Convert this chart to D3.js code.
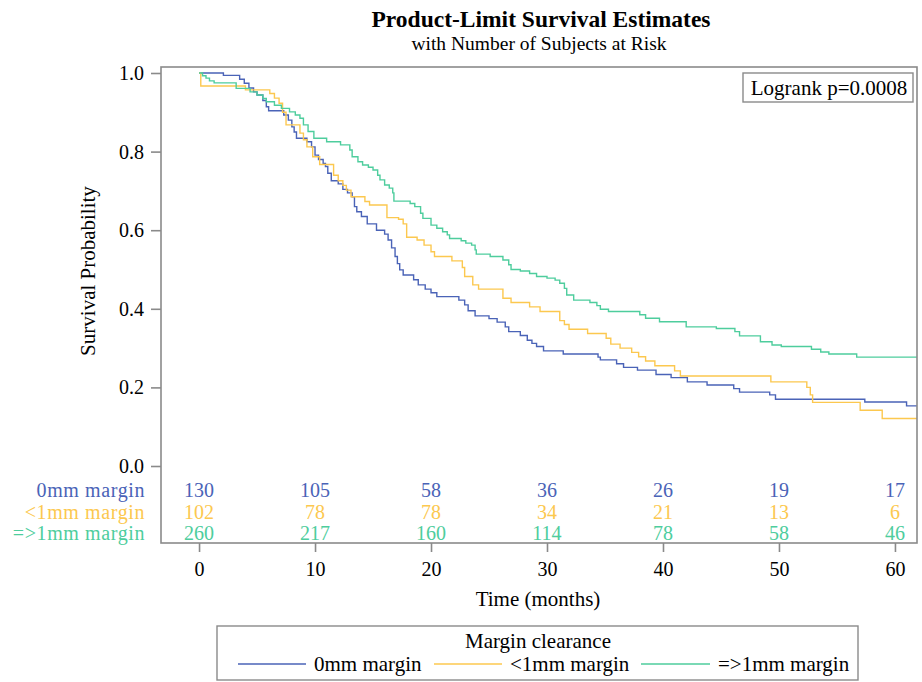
<!DOCTYPE html>
<html>
<head>
<meta charset="utf-8">
<script src="https://cdn.jsdelivr.net/npm/d3@7"></script>
<style>
  body { margin: 0; background: #fff; }
  svg { font-family: "Liberation Serif", "Times New Roman", serif; }
</style>
</head>
<body>
<svg id="chart" width="922" height="682"></svg>
<script>
// ---- data ----
const groups = ["0mm margin", "<1mm margin", "=>1mm margin"];
const groupColors = ["#4a63b7", "#fcc84f", "#4ecd9d"];

const timeBlue = [0,2.1,3.5,3.9,4.3,4.7,5.0,5.5,5.8,6.0,7.3,7.7,8.0,8.2,8.4,9.3,9.7,10.0,10.3,10.7,10.9,11.1,11.4,12.0,12.4,12.8,13.2,13.4,13.6,14.0,14.5,15.3,16.0,16.3,16.6,16.9,17.1,17.3,17.6,18.5,18.9,19.5,20.0,20.5,22.4,22.9,23.2,23.8,25.0,25.7,26.4,26.7,27.7,28.3,28.7,29.1,29.7,31.4,34.4,34.6,36.0,36.6,37.8,39.4,40.7,42.1,43.8,46.1,46.6,49.2,49.7,57.4,61.0,62.5];
const survBlue = [1.0,0.994,0.984,0.974,0.962,0.952,0.944,0.930,0.914,0.904,0.893,0.880,0.863,0.850,0.834,0.825,0.812,0.791,0.780,0.770,0.762,0.745,0.726,0.718,0.704,0.695,0.685,0.660,0.647,0.635,0.616,0.600,0.590,0.575,0.555,0.533,0.515,0.499,0.486,0.474,0.461,0.450,0.441,0.431,0.422,0.410,0.395,0.382,0.375,0.366,0.354,0.342,0.332,0.320,0.312,0.304,0.293,0.285,0.277,0.270,0.260,0.251,0.244,0.233,0.225,0.214,0.206,0.197,0.188,0.181,0.170,0.163,0.153,0.153];

const timeYellow = [0,0.15,4.0,6.1,6.5,6.9,7.2,7.5,8.7,9.0,9.3,9.8,10.4,11.6,12.0,12.4,12.7,13.1,14.3,14.7,16.2,17.2,17.6,17.9,18.8,19.4,20.0,20.3,21.8,22.7,22.9,23.6,24.1,26.2,26.9,28.5,29.4,31.1,31.5,31.9,33.5,35.1,35.5,36.3,37.3,37.9,38.5,39.3,41.0,41.5,49.3,52.4,52.7,52.9,57.0,58.9,62.5];
const survYellow = [1.0,0.967,0.957,0.948,0.936,0.923,0.900,0.868,0.847,0.830,0.812,0.787,0.767,0.740,0.726,0.714,0.702,0.685,0.673,0.664,0.632,0.628,0.616,0.582,0.575,0.562,0.545,0.533,0.522,0.505,0.482,0.461,0.450,0.427,0.416,0.405,0.393,0.370,0.360,0.348,0.337,0.325,0.310,0.300,0.289,0.278,0.267,0.255,0.242,0.229,0.214,0.200,0.181,0.162,0.142,0.121,0.121];

const timeGreen = [0,0.3,0.6,0.9,1.3,3.2,4.4,5.0,5.5,5.8,6.5,7.1,7.8,8.3,8.7,9.0,9.4,9.9,11.0,12.2,13.0,13.2,13.7,14.1,14.6,15.0,15.4,15.6,16.0,16.4,16.7,16.8,18.2,18.6,19.1,19.3,20.0,20.5,21.0,21.4,21.6,22.6,23.0,23.5,23.8,23.9,25.1,26.2,26.7,26.9,27.7,28.5,29.1,30.0,30.7,31.1,31.5,31.7,32.3,33.7,34.3,34.6,35.3,38.0,38.5,39.7,42.0,44.6,46.2,46.6,48.4,49.4,50.2,52.8,53.6,54.3,56.7,62.5];
const survGreen = [1.0,0.993,0.987,0.980,0.975,0.961,0.952,0.944,0.935,0.927,0.918,0.910,0.901,0.893,0.885,0.868,0.851,0.834,0.825,0.817,0.804,0.787,0.774,0.766,0.760,0.753,0.740,0.728,0.715,0.707,0.695,0.674,0.668,0.660,0.643,0.630,0.613,0.605,0.596,0.588,0.579,0.573,0.567,0.562,0.550,0.539,0.533,0.524,0.512,0.500,0.496,0.490,0.482,0.478,0.473,0.465,0.452,0.435,0.422,0.416,0.408,0.399,0.393,0.385,0.376,0.367,0.354,0.350,0.342,0.331,0.316,0.308,0.304,0.297,0.290,0.285,0.277,0.277];

const riskTimes = [0, 10, 20, 30, 40, 50, 60];
const riskBlue = [130, 105, 58, 36, 26, 19, 17];
const riskYellow = [102, 78, 78, 34, 21, 13, 6];
const riskGreen = [260, 217, 160, 114, 78, 58, 46];

const yTicks = [0, 0.2, 0.4, 0.6, 0.8, 1.0];
const xTicks = [0, 10, 20, 30, 40, 50, 60];

const titleText = "Product-Limit Survival Estimates";
const subtitleText = "with Number of Subjects at Risk";
const logrankText = "Logrank p=0.0008";
const legendTitle = "Margin clearance";

// ---- layout ----
const svg = d3.select("#chart");
const frame = { left: 161, right: 917, top: 67, bottom: 543 };
const x = d3.scaleLinear().domain([-3.28, 61.9]).range([frame.left, frame.right]);
const y = d3.scaleLinear().domain([0, 1]).range([466, 73]);
const frameColor = "#8a8a8a";
const fs = 21;   // word labels
const fn = 20;   // numbers

// titles
svg.append("text").attr("x", 541).attr("y", 27).attr("text-anchor", "middle")
  .attr("font-size", 23.5).attr("font-weight", "bold").text(titleText);
svg.append("text").attr("x", 539).attr("y", 50).attr("text-anchor", "middle")
  .attr("font-size", 19.5).text(subtitleText);

// clip
svg.append("clipPath").attr("id", "clip").append("rect")
  .attr("x", frame.left).attr("y", frame.top)
  .attr("width", frame.right - frame.left).attr("height", frame.bottom - frame.top);

// curves
const series = [
  { t: timeBlue, s: survBlue },
  { t: timeYellow, s: survYellow },
  { t: timeGreen, s: survGreen }
];
const line = d3.line().x(d => x(d[0])).y(d => y(d[1])).curve(d3.curveStepAfter);
const curveG = svg.append("g").attr("clip-path", "url(#clip)");
series.forEach((ser, i) => {
  const pts = ser.t.map((t, j) => [t, ser.s[j]]);
  curveG.append("path").datum(pts).attr("d", line)
    .attr("fill", "none").attr("stroke", groupColors[i]).attr("stroke-width", 1.4);
});

// frame
svg.append("rect").attr("x", frame.left).attr("y", frame.top)
  .attr("width", frame.right - frame.left).attr("height", frame.bottom - frame.top)
  .attr("fill", "none").attr("stroke", frameColor).attr("stroke-width", 1.6);

// y axis
const yAxis = svg.append("g").attr("transform", `translate(${frame.left},0)`)
  .call(d3.axisLeft(y).tickValues(yTicks).tickFormat(d3.format(".1f")).tickSize(10).tickPadding(7));
yAxis.select(".domain").remove();
yAxis.selectAll(".tick line").attr("stroke", frameColor).attr("stroke-width", 1.6);
yAxis.selectAll(".tick text").attr("font-size", fn).attr("font-family", "Liberation Serif").attr("fill", "#000");

// x axis
const xAxis = svg.append("g").attr("transform", `translate(0,${frame.bottom})`)
  .call(d3.axisBottom(x).tickValues(xTicks).tickSize(9).tickPadding(10));
xAxis.select(".domain").remove();
xAxis.selectAll(".tick line").attr("stroke", frameColor).attr("stroke-width", 1.6);
xAxis.selectAll(".tick text").attr("font-size", fn).attr("font-family", "Liberation Serif").attr("fill", "#000");

// axis labels
svg.append("text").attr("x", 538).attr("y", 606).attr("text-anchor", "middle")
  .attr("font-size", fs).text("Time (months)");
svg.append("text").attr("transform", "translate(95,271) rotate(-90)").attr("text-anchor", "middle")
  .attr("font-size", fs).text("Survival Probability");

// at-risk table
const riskRows = [riskBlue, riskYellow, riskGreen];
const rowBase = [497, 518.5, 540];
riskRows.forEach((row, i) => {
  svg.append("text").attr("x", 145).attr("y", rowBase[i]).attr("text-anchor", "end")
    .attr("font-size", fn).attr("letter-spacing", 0.6).attr("fill", groupColors[i]).text(groups[i]);
  svg.append("g").selectAll("text").data(row).join("text")
    .attr("x", (d, j) => x(riskTimes[j])).attr("y", rowBase[i])
    .attr("text-anchor", "middle").attr("font-size", fn).attr("fill", groupColors[i])
    .text(d => d);
});

// logrank box
svg.append("rect").attr("x", 743).attr("y", 73).attr("width", 170).attr("height", 29)
  .attr("fill", "#fff").attr("stroke", frameColor).attr("stroke-width", 1.4);
svg.append("text").attr("x", 829).attr("y", 95).attr("text-anchor", "middle")
  .attr("font-size", fs).text(logrankText);

// legend
svg.append("rect").attr("x", 217).attr("y", 626).attr("width", 641).attr("height", 54)
  .attr("fill", "#fff").attr("stroke", frameColor).attr("stroke-width", 1.4);
svg.append("text").attr("x", 538).attr("y", 648).attr("text-anchor", "middle")
  .attr("font-size", fs).text(legendTitle);
const legX = [[238, 306, 314], [434, 502, 510], [641, 710, 718]];
groups.forEach((g, i) => {
  svg.append("line").attr("x1", legX[i][0]).attr("x2", legX[i][1]).attr("y1", 664).attr("y2", 664)
    .attr("stroke", groupColors[i]).attr("stroke-width", 1.4);
  svg.append("text").attr("x", legX[i][2]).attr("y", 671).attr("font-size", fs).text(g);
});
</script>
</body>
</html>
